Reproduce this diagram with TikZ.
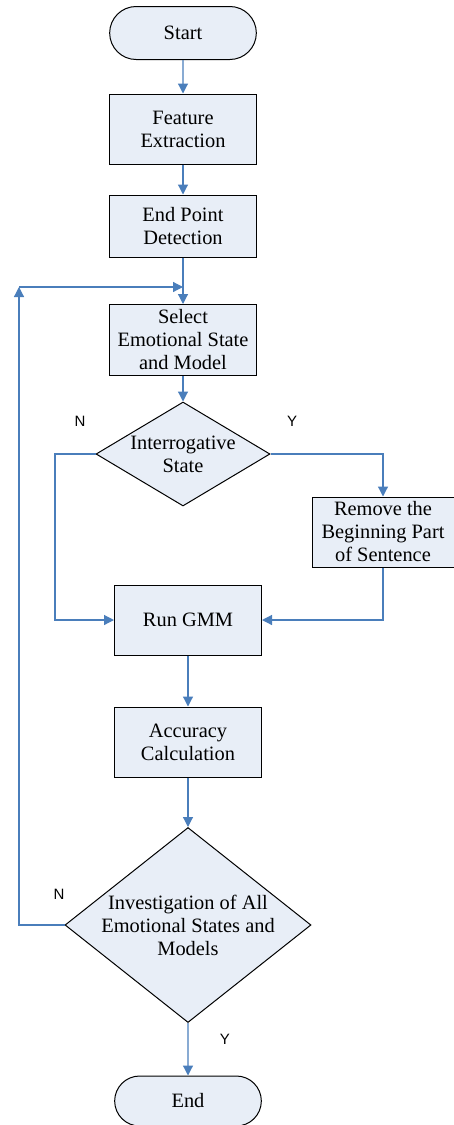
\documentclass[tikz,border=0pt]{standalone}
\usepackage{fontspec}
\setmainfont{Liberation Serif}
\newfontfamily\answerfont{Liberation Sans}
\usetikzlibrary{shapes.geometric,shapes.misc,arrows.meta}

\definecolor{boxfill}{RGB}{232,238,247}
\definecolor{flowblue}{RGB}{74,126,187}

\tikzset{
  base/.style={draw=black, line width=0.5pt, fill=boxfill, align=center,
    font=\fontsize{10.2}{11.5}\selectfont},
  process/.style={base, rectangle, minimum width=73.5pt, minimum height=35pt, inner sep=1pt},
  terminal/.style={base, rounded rectangle, minimum width=80pt, minimum height=26.5pt},
  decision/.style={base, diamond, inner sep=0pt},
  flow/.style={draw=flowblue, line width=0.6pt, -{Triangle[length=5pt,width=5pt]}},
  answer/.style={font=\answerfont\fontsize{7.5}{9}\selectfont},
}

\begin{document}
\begin{tikzpicture}[x=0.5pt,y=-0.5pt]
  \useasboundingbox (0,0) rectangle (454,1125);

  % Blocchi del diagramma
  \node[terminal] (start) at (183,33) {Start};
  \node[process] (feature) at (183,129) {Feature\\Extraction};
  \node[process, minimum height=31pt] (detect) at (183,226) {End Point\\Detection};
  \node[process, minimum height=35.5pt] (select) at (183,340) {Select\\Emotional State\\and Model};
  \node[decision, minimum width=87pt, minimum height=52pt, shape aspect=1.67] (interr) at (183,454) {Interrogative\\State};
  \node[process, minimum width=71pt] (remove) at (383,532) {Remove the\\Beginning Part\\of Sentence};
  \node[process] (gmm) at (188,620) {Run GMM};
  \node[process] (accuracy) at (188,742) {Accuracy\\Calculation};
  \node[decision, minimum width=123pt, minimum height=97.5pt, shape aspect=1.26, inner sep=-1.5pt] (invest) at (188,925) {Investigation of All\\Emotional States and\\Models};
  \node[terminal, minimum height=25pt] (end) at (188,1101) {End};

  % Etichette delle risposte
  \node[answer] (nfirst) at (80,421) {N};
  \node[answer] (yfirst) at (292,421) {Y};
  \node[answer] (nloop) at (59,894) {N};
  \node[answer] (yend) at (225,1039) {Y};

  % Punti di piega
  \coordinate (nbend) at (55,620);
  \coordinate (loopbot) at (19,925);
  \coordinate (looptop) at (19,287);
  \coordinate (loopin) at (183,287);

  % Collegamenti
  \draw[flow] (start) -- (feature);
  \draw[flow] (feature) -- (detect);
  \draw[flow] (detect) -- (select);
  \draw[flow] (select) -- (interr);
  \draw[flow] (interr.west) -| (nbend) -- (gmm.west);
  \draw[flow] (interr.east) -| (remove.north);
  \draw[flow] (remove.south) |- (gmm.east);
  \draw[flow] (gmm) -- (accuracy);
  \draw[flow] (accuracy) -- (invest);
  \draw[flow] (invest) -- (end);
  \draw[flow] (invest.west) -- (loopbot) -- (looptop);
  \draw[flow] (looptop) -- (loopin);
\end{tikzpicture}
\end{document}
